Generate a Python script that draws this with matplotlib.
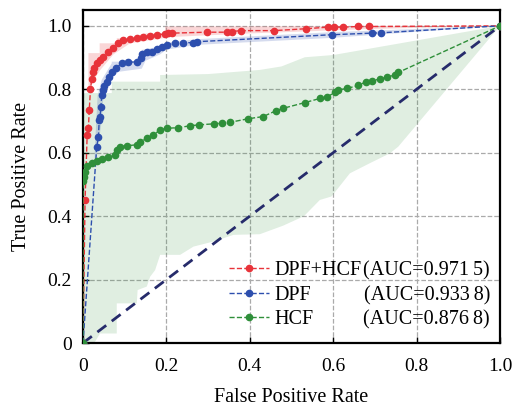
# ROC curves of three feature sets, with shaded spread bands
import numpy as np
import matplotlib
matplotlib.use("Agg")
import matplotlib.pyplot as plt

plt.rcParams['font.family'] = ['Liberation Serif', 'DejaVu Serif']
plt.rcParams['font.size'] = 14

# ROC points
red_fpr = [0, 0.005, 0.010, 0.013, 0.015, 0.018, 0.021, 0.023, 0.027, 0.033,
           0.041, 0.049, 0.061, 0.073, 0.085, 0.097, 0.113, 0.129, 0.145, 0.161,
           0.177, 0.197, 0.205, 0.213, 0.297, 0.345, 0.357, 0.378, 0.458, 0.536,
           0.588, 0.602, 0.623, 0.660, 0.686, 1.0]
red_tpr = [0, 0.45, 0.656, 0.677, 0.735, 0.80, 0.833, 0.856, 0.868, 0.882,
           0.893, 0.901, 0.916, 0.930, 0.945, 0.954, 0.959, 0.961, 0.966, 0.969,
           0.971, 0.975, 0.977, 0.977, 0.980, 0.980, 0.982, 0.985, 0.985, 0.991,
           0.996, 0.996, 0.996, 0.998, 0.998, 1.0]

blue_fpr = [0, 0.033, 0.037, 0.039, 0.041, 0.043, 0.045, 0.047, 0.051, 0.057,
            0.063, 0.070, 0.079, 0.093, 0.109, 0.130, 0.138, 0.141, 0.153, 0.165,
            0.177, 0.189, 0.201, 0.221, 0.241, 0.265, 0.273, 0.596, 0.692, 0.714,
            1.0]
blue_tpr = [0, 0.619, 0.651, 0.703, 0.714, 0.745, 0.782, 0.798, 0.811, 0.824,
            0.840, 0.856, 0.867, 0.882, 0.885, 0.887, 0.898, 0.912, 0.917, 0.919,
            0.926, 0.932, 0.940, 0.945, 0.947, 0.947, 0.950, 0.972, 0.977, 0.978,
            1.0]

green_fpr = [0, 0.0, 0.003, 0.005, 0.010, 0.021, 0.033, 0.045, 0.061, 0.077,
             0.081, 0.089, 0.105, 0.129, 0.137, 0.153, 0.169, 0.185, 0.201, 0.229,
             0.257, 0.279, 0.313, 0.333, 0.353, 0.396, 0.432, 0.464, 0.480, 0.532,
             0.568, 0.584, 0.604, 0.612, 0.634, 0.660, 0.679, 0.692, 0.712, 0.728,
             0.748, 0.756, 1.0]
green_tpr = [0, 0.51, 0.525, 0.540, 0.559, 0.567, 0.574, 0.580, 0.585, 0.593,
             0.609, 0.619, 0.622, 0.625, 0.635, 0.645, 0.656, 0.672, 0.677, 0.679,
             0.685, 0.688, 0.691, 0.693, 0.696, 0.707, 0.714, 0.733, 0.740, 0.758,
             0.771, 0.775, 0.790, 0.798, 0.803, 0.812, 0.824, 0.827, 0.832, 0.838,
             0.845, 0.853, 1.0]

# spread bands: upper and lower edges
red_hi_x = [0.013, 0.040, 0.040, 0.081, 0.081, 0.145, 0.145, 0.197, 0.197, 1.0]
red_hi_y = [0.914, 0.914, 0.945, 0.945, 0.961, 0.961, 0.976, 0.976, 0.998, 1.0]
red_lo_x = [0.013, 0.021, 0.041, 0.073, 0.113, 0.161, 0.213, 0.378, 0.686, 1.0]
red_lo_y = [0.80, 0.82, 0.86, 0.91, 0.945, 0.955, 0.965, 0.975, 0.99, 1.0]

blue_hi_x = [0.028, 0.035, 0.045, 0.069, 0.069, 0.141, 0.141, 0.185, 0.200, 0.273, 0.596, 1.0]
blue_hi_y = [0.60, 0.78, 0.83, 0.882, 0.887, 0.887, 0.924, 0.935, 0.947, 0.958, 0.980, 1.0]
blue_lo_x = [0.028, 0.045, 0.049, 0.065, 0.085, 0.141, 0.150, 0.185, 0.200, 0.273, 0.596, 1.0]
blue_lo_y = [0.55, 0.70, 0.78, 0.83, 0.855, 0.865, 0.890, 0.910, 0.925, 0.940, 0.962, 1.0]

green_hi_x = [0, 0.069, 0.069, 0.185, 0.185, 0.30, 0.424, 0.476, 0.532, 0.600, 1.0]
green_hi_y = [0.788, 0.788, 0.824, 0.824, 0.845, 0.848, 0.861, 0.872, 0.901, 0.908, 1.0]
green_lo_x = [0, 0.027, 0.041, 0.081, 0.081, 0.129, 0.131, 0.153, 0.161, 0.173, 0.185,
              0.233, 0.265, 0.313, 0.361, 0.424, 0.480, 0.530, 0.568, 0.596, 0.640,
              0.688, 0.736, 0.756, 1.0]
green_lo_y = [0, 0, 0.030, 0.030, 0.125, 0.125, 0.167, 0.178, 0.209, 0.230, 0.278,
              0.278, 0.304, 0.320, 0.341, 0.343, 0.370, 0.400, 0.451, 0.462, 0.535,
              0.567, 0.598, 0.619, 1.0]

names = ["DPF+HCF", "DPF", "HCF"]
auc_text = ["(AUC=0.971\u20095)", "(AUC=0.933\u20098)", "(AUC=0.876\u20098)"]
ticks = [0, 0.2, 0.4, 0.6, 0.8, 1.0]
tick_labels = ["0", "0.2", "0.4", "0.6", "0.8", "1.0"]

c_red = '#e8333a'
c_blue = '#2d4fae'
c_green = '#2f8f3a'

fig = plt.figure(figsize=(5.2, 4.08), dpi=100)
ax = fig.add_axes([0.1596, 0.1593, 0.8019, 0.8162])


def band(hx, hy, lx, ly, color, alpha):
    # polygon between upper edge and reversed lower edge
    xs = np.r_[hx, lx[::-1]]
    ys = np.r_[hy, ly[::-1]]
    ax.fill(xs, ys, color=color, alpha=alpha, lw=0, zorder=1)


band(green_hi_x, green_hi_y, green_lo_x, green_lo_y, c_green, 0.15)
band(red_hi_x, red_hi_y, red_lo_x, red_lo_y, c_red, 0.2)
band(blue_hi_x, blue_hi_y, blue_lo_x, blue_lo_y, c_blue, 0.2)

# chance line
ax.plot([0, 1], [0, 1], color='#262b6b', lw=2, dashes=(4, 2.5), zorder=3)

curves = [(red_fpr, red_tpr, c_red), (blue_fpr, blue_tpr, c_blue),
          (green_fpr, green_tpr, c_green)]
handles = []
for (fx, ty, col), nm in zip(curves, names):
    h, = ax.plot(fx, ty, color=col, lw=1, ls='--', marker='o', ms=4.5,
                 label=nm, zorder=4)
    handles.append(h)

ax.set_xlim(0, 1.0)
ax.set_ylim(0, 1.05)
ax.set_xticks(ticks)
ax.set_xticklabels(tick_labels)
ax.set_yticks(ticks)
ax.set_yticklabels(tick_labels)
ax.tick_params(direction='in', length=4, width=1, labelsize=14)
ax.tick_params(axis='x', pad=11)
ax.tick_params(axis='y', pad=8)
ax.grid(True, color='#aaaaaa', ls='--', lw=0.9)
ax.set_axisbelow(True)
for s in ax.spines.values():
    s.set_linewidth(1.6)

ax.set_xlabel("False Positive Rate", fontsize=14.5, labelpad=9)
ax.set_ylabel("True Positive Rate", fontsize=14.5, labelpad=12)

leg = ax.legend(handles=handles, loc='center left', bbox_to_anchor=(0.331, 0.144),
                frameon=False, fontsize=14.5, handlelength=2.0, handletextpad=0.25,
                labelspacing=0.25, borderaxespad=0)

row_y = [0.218, 0.141, 0.071]
for t, yy in zip(auc_text, row_y):
    ax.text(0.976, yy, t, transform=ax.transAxes, ha='right', va='center', fontsize=14.5)

fig.savefig("out.png", dpi=100)
